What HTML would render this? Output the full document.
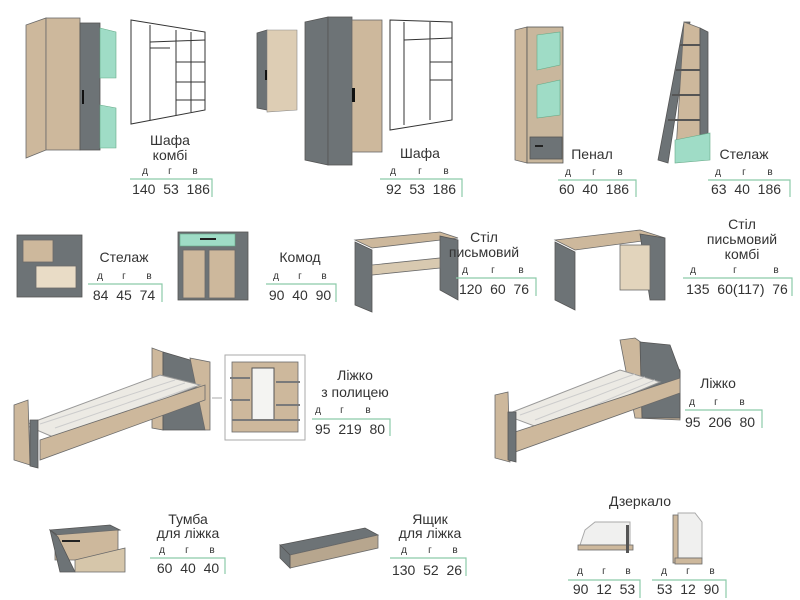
<!DOCTYPE html>
<html><head><meta charset="utf-8"><style>
html,body{margin:0;padding:0;background:#fff;width:800px;height:600px;overflow:hidden}
svg{display:block}
.t{font-family:"Liberation Sans","DejaVu Sans",sans-serif;fill:#333;text-anchor:middle}
.ti{font-size:14px}
.l{font-size:10px}
.n{font-size:14px}
.g{stroke:#8ccaa9;stroke-width:1.2;fill:none}
.w{fill:#cdb89c;stroke:#6a6a6a;stroke-width:0.8}
.d{fill:#6d7376;stroke:#555;stroke-width:0.8}
.m{fill:#9fdcc6;stroke:#6a8;stroke-width:0.6}
.o{fill:#fff;stroke:#333;stroke-width:1}
.s{fill:#f2f2ee;stroke:#888;stroke-width:0.6}
</style></head><body>
<svg width="800" height="600" viewBox="0 0 800 600">
<!-- Row 1 -->
<!-- Шафа комбі -->
<polygon class="w" points="26,25 46,18 46,150 26,158"/>
<rect class="w" x="46" y="18" width="34" height="132"/>
<rect class="d" x="80" y="23" width="20" height="127"/>
<polygon class="m" points="100,28 116,32 116,78 100,78"/>
<polygon class="m" points="100,105 116,108 116,148 100,148"/>
<rect x="82" y="90" width="2" height="14" fill="#111"/>
<polygon class="o" points="131,20 205,32 205,110 131,124"/>
<path d="M150,25 V120 M150,42 L205,40 M176,30 V115 M191,32 V112 M176,62 H205 M176,82 H205 M176,100 H205 M150,48 H170" stroke="#333" fill="none"/>
<!-- Шафа small + big -->
<polygon class="d" points="257,33 267,30 267,110 257,108"/>
<polygon class="s" points="267,30 297,30 297,110 267,112" style="fill:#ddcdb4"/>
<rect x="265" y="70" width="2" height="10" fill="#111"/>
<polygon class="d" points="305,22 328,17 328,165 305,160"/>
<rect class="d" x="328" y="17" width="24" height="148"/>
<rect class="w" x="352" y="20" width="30" height="132"/>
<rect x="352" y="88" width="3" height="14" fill="#111"/>
<polygon class="o" points="390,20 452,22 452,120 390,130"/>
<path d="M404,22 V125 M404,40 L452,38 M430,22 V120 M430,62 H452 M430,80 H452" stroke="#333" fill="none"/>
<!-- Пенал -->
<polygon class="w" points="515,30 527,27 527,163 515,160"/>
<rect class="d" x="527" y="27" width="36" height="136" style="fill:#c9b79d"/>
<polygon class="m" points="537,35 560,32 560,65 537,70"/>
<polygon class="m" points="537,85 560,80 560,115 537,118"/>
<rect class="d" x="530" y="137" width="32" height="22"/>
<rect x="535" y="145" width="8" height="2" fill="#222"/>
<!-- Стелаж -->
<polygon class="d" points="658,160 684,22 690,22 668,163"/>
<polygon class="w" points="684,22 700,28 700,150 676,150"/>
<path d="M680,45 H700 M676,70 H700 M672,95 H700 M668,120 H705" stroke="#555" stroke-width="2"/>
<polygon class="d" points="700,28 708,32 708,150 700,150"/>
<polygon class="m" points="675,140 710,133 710,160 675,163"/>

<!-- Row 2 -->
<rect class="d" x="17" y="235" width="65" height="62"/>
<rect class="w" x="23" y="240" width="30" height="22"/>
<rect class="w" x="36" y="266" width="40" height="22" style="fill:#e9dcc6"/>
<rect class="d" x="178" y="232" width="70" height="68"/>
<rect class="m" x="180" y="234" width="55" height="12"/>
<rect class="w" x="183" y="250" width="22" height="48"/>
<rect class="w" x="209" y="250" width="26" height="48"/>
<rect x="200" y="238" width="16" height="2" fill="#222"/>
<!-- Стіл -->
<polygon class="w" points="355,240 440,232 458,238 372,248"/>
<polygon class="d" points="355,242 372,250 372,312 355,305"/>
<polygon class="d" points="440,236 458,240 458,300 440,290"/>
<polygon class="w" points="372,265 440,258 440,268 372,275" style="fill:#d8c9b0"/>
<!-- Стіл комбі -->
<polygon class="w" points="555,240 640,230 665,238 575,250"/>
<polygon class="d" points="555,242 575,252 575,310 555,300"/>
<polygon class="d" points="640,234 665,238 665,300 650,300"/>
<rect class="w" x="620" y="245" width="30" height="45" style="fill:#e2d4bc"/>

<!-- Row 3: Ліжко з полицею -->
<polygon class="w" points="152,348 163,352 163,430 152,428"/>
<polygon class="d" points="163,352 190,360 205,380 205,430 163,430"/>
<polygon class="w" points="190,358 210,362 210,430 205,430"/>
<polygon points="25,425 160,375 200,385 60,440" fill="#eceae4" stroke="#999"/>
<path d="M40,424 L175,380 M55,428 L185,383 M70,432 L195,386 M85,435 L200,390" stroke="#ccc"/>
<polygon class="w" points="40,440 205,385 205,400 40,460"/>
<polygon class="w" points="14,405 28,400 30,465 14,460"/>
<polygon class="d" points="30,420 38,420 38,468 30,466"/>
<rect x="225" y="355" width="80" height="85" fill="#fff" stroke="#aaa"/>
<rect class="w" x="232" y="362" width="66" height="70"/>
<rect x="252" y="368" width="22" height="52" fill="#f4f4f2" stroke="#555"/>
<path d="M230,378 H250 M230,400 H250 M276,382 H300 M276,405 H300 M232,420 H300" stroke="#7a7a7a" stroke-width="2"/>
<path d="M222,398 H212" stroke="#aaa"/>
<!-- Ліжко -->
<polygon class="w" points="620,340 635,338 680,370 680,420 635,418"/>
<polygon class="d" points="640,342 670,345 680,372 680,418 642,418"/>
<polygon points="505,415 620,370 660,382 545,430" fill="#eceae4" stroke="#999"/>
<path d="M520,415 L635,374 M535,420 L645,377 M550,424 L655,380" stroke="#ccc"/>
<polygon class="w" points="515,432 680,378 680,393 515,452"/>
<polygon class="w" points="495,395 508,392 510,462 495,458"/>
<polygon class="d" points="508,412 516,412 516,462 508,460"/>

<!-- Row 4 -->
<polygon class="d" points="50,530 110,525 120,530 60,537"/>
<polygon class="w" points="55,535 118,530 118,560 55,560"/>
<polygon class="d" points="50,530 58,537 75,572 60,572"/>
<polygon class="w" points="75,560 125,548 125,572 75,572" style="fill:#d6c6aa"/>
<rect x="62" y="540" width="18" height="2" fill="#222"/>
<polygon class="d" points="280,545 365,528 378,535 290,555"/>
<polygon class="w" points="290,555 378,535 378,548 290,568" style="fill:#b7a68e"/>
<polygon class="d" points="280,545 290,555 290,568 280,558"/>
<!-- Дзеркало -->
<polygon points="585,530 595,522 630,522 630,545 580,545" fill="#f0f0ef" stroke="#aaa"/>
<rect x="578" y="545" width="55" height="5" class="w"/>
<rect x="626" y="525" width="3" height="28" fill="#555"/>
<polygon points="678,513 695,513 702,522 702,558 678,558" fill="#f0f0ef" stroke="#aaa"/>
<rect x="673" y="515" width="5" height="48" class="w"/>
<rect x="675" y="558" width="27" height="6" class="w"/>

<!-- Labels -->
<g class="t">
<text class="ti" x="170" y="145">Шафа</text><text class="ti" x="170" y="160">комбі</text>
<text class="l" x="145" y="174">д</text><text class="l" x="170" y="174">г</text><text class="l" x="195" y="174">в</text>
<text class="n" x="171" y="194">140&#160; 53&#160; 186</text>
<text class="ti" x="420" y="158">Шафа</text>
<text class="l" x="393" y="174">д</text><text class="l" x="420" y="174">г</text><text class="l" x="446" y="174">в</text>
<text class="n" x="421" y="194">92&#160; 53&#160; 186</text>
<text class="ti" x="592" y="159">Пенал</text>
<text class="l" x="568" y="175">д</text><text class="l" x="594" y="175">г</text><text class="l" x="620" y="175">в</text>
<text class="n" x="594" y="194">60&#160; 40&#160; 186</text>
<text class="ti" x="744" y="159">Стелаж</text>
<text class="l" x="718" y="175">д</text><text class="l" x="744" y="175">г</text><text class="l" x="770" y="175">в</text>
<text class="n" x="746" y="194">63&#160; 40&#160; 186</text>

<text class="ti" x="124" y="262">Стелаж</text>
<text class="l" x="100" y="279">д</text><text class="l" x="124" y="279">г</text><text class="l" x="149" y="279">в</text>
<text class="n" x="124" y="300">84&#160; 45&#160; 74</text>
<text class="ti" x="300" y="262">Комод</text>
<text class="l" x="276" y="279">д</text><text class="l" x="300" y="279">г</text><text class="l" x="324" y="279">в</text>
<text class="n" x="300" y="300">90&#160; 40&#160; 90</text>
<text class="ti" x="484" y="242">Стіл</text><text class="ti" x="484" y="257">письмовий</text>
<text class="l" x="465" y="273">д</text><text class="l" x="493" y="273">г</text><text class="l" x="521" y="273">в</text>
<text class="n" x="494" y="294">120&#160; 60&#160; 76</text>
<text class="ti" x="742" y="229">Стіл</text><text class="ti" x="742" y="244">письмовий</text><text class="ti" x="742" y="259">комбі</text>
<text class="l" x="693" y="273">д</text><text class="l" x="735" y="273">г</text><text class="l" x="776" y="273">в</text>
<text class="n" x="737" y="294">135&#160; 60(117)&#160; 76</text>

<text class="ti" x="355" y="380">Ліжко</text><text class="ti" x="355" y="397">з полицею</text>
<text class="l" x="318" y="413">д</text><text class="l" x="342" y="413">г</text><text class="l" x="368" y="413">в</text>
<text class="n" x="350" y="434">95&#160; 219&#160; 80</text>
<text class="ti" x="718" y="388">Ліжко</text>
<text class="l" x="692" y="405">д</text><text class="l" x="716" y="405">г</text><text class="l" x="742" y="405">в</text>
<text class="n" x="720" y="427">95&#160; 206&#160; 80</text>

<text class="ti" x="188" y="524">Тумба</text><text class="ti" x="188" y="538">для ліжка</text>
<text class="l" x="162" y="553">д</text><text class="l" x="187" y="553">г</text><text class="l" x="212" y="553">в</text>
<text class="n" x="188" y="573">60&#160; 40&#160; 40</text>
<text class="ti" x="430" y="524">Ящик</text><text class="ti" x="430" y="538">для ліжка</text>
<text class="l" x="404" y="553">д</text><text class="l" x="430" y="553">г</text><text class="l" x="455" y="553">в</text>
<text class="n" x="427" y="575">130&#160; 52&#160; 26</text>
<text class="ti" x="640" y="506">Дзеркало</text>
<text class="l" x="580" y="574">д</text><text class="l" x="604" y="574">г</text><text class="l" x="628" y="574">в</text>
<text class="n" x="604" y="594">90&#160; 12&#160; 53</text>
<text class="l" x="664" y="574">д</text><text class="l" x="688" y="574">г</text><text class="l" x="712" y="574">в</text>
<text class="n" x="688" y="594">53&#160; 12&#160; 90</text>
</g>
<g class="g">
<path d="M130,179 H212 V197"/>
<path d="M380,179 H462 V197"/>
<path d="M558,180 H636 V197"/>
<path d="M708,180 H790 V197"/>
<path d="M88,284 H162 V302"/>
<path d="M266,284 H336 V302"/>
<path d="M456,278 H536 V296"/>
<path d="M683,278 H792 V296"/>
<path d="M312,419 H390 V436"/>
<path d="M685,410 H762 V428"/>
<path d="M150,558 H225 V574"/>
<path d="M390,558 H466 V576"/>
<path d="M568,580 H640 V598"/>
<path d="M652,580 H726 V598"/>
</g>
</svg>
</body></html>
